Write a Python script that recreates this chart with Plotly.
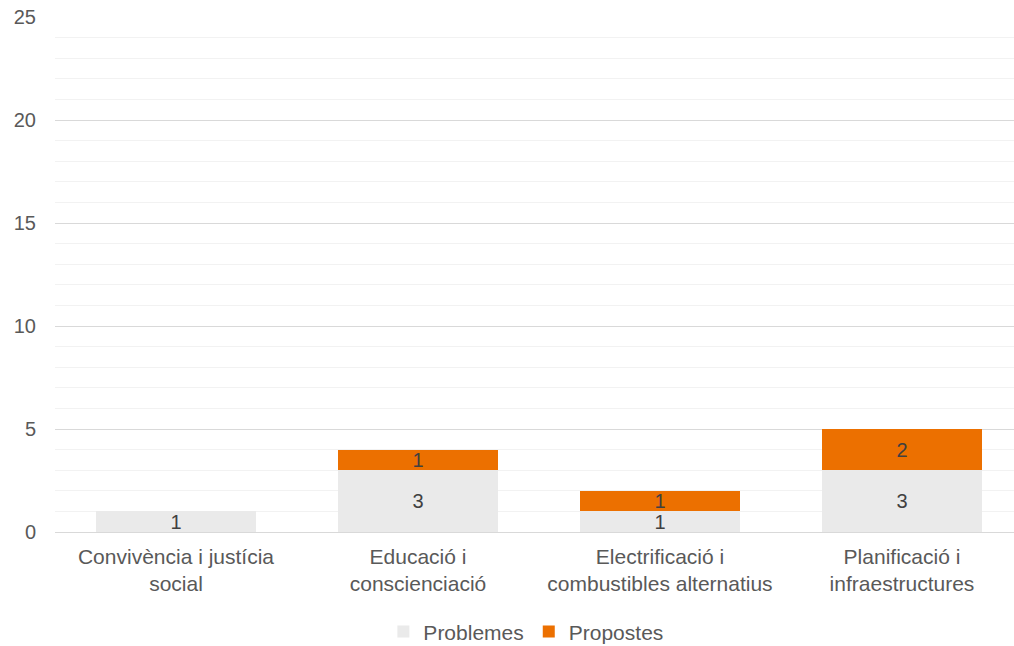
import plotly.graph_objects as go

categories = [
    "Convivència i justícia<br>social",
    "Educació i<br>conscienciació",
    "Electrificació i<br>combustibles alternatius",
    "Planificació i<br>infraestructures",
]
problemes = [1, 3, 1, 3]
propostes = [0, 1, 1, 2]

fig = go.Figure()

fig.add_trace(go.Bar(
    x=categories, y=problemes, name="Problemes",
    marker=dict(color="#EAEAEA", line=dict(width=0)),
    text=problemes, textposition="inside", insidetextanchor="middle",
    textangle=0, constraintext="none",
    textfont=dict(color="#404040", size=20),
))
fig.add_trace(go.Bar(
    x=categories, y=propostes, name="Propostes",
    marker=dict(color="#EC7000", line=dict(width=0)),
    text=[str(v) if v else "" for v in propostes],
    textposition="inside", insidetextanchor="middle",
    textangle=0, constraintext="none",
    textfont=dict(color="#404040", size=20),
))

fig.update_layout(
    barmode="stack",
    bargap=0.335,
    width=1014, height=646,
    margin=dict(l=55, r=0, t=17, b=114),
    plot_bgcolor="white", paper_bgcolor="white",
    font=dict(family="Liberation Sans, Arial, sans-serif", size=20, color="#595959"),
    uniformtext=dict(minsize=10, mode="show"),
    xaxis=dict(
        range=[-0.5, 3.463], automargin=False,
        showgrid=False, showline=False, ticks="", ticklabelstandoff=10,
        tickfont=dict(size=21, color="#595959"),
    ),
    yaxis=dict(
        range=[0, 25], dtick=5, automargin=False,
        showgrid=True, gridcolor="#D9D9D9", gridwidth=1,
        zeroline=True, zerolinecolor="#D9D9D9", zerolinewidth=1,
        showline=False, ticks="", ticklabelstandoff=18,
        minor=dict(dtick=1, showgrid=True, gridcolor="#F2F2F2", gridwidth=1),
        tickfont=dict(size=20, color="#595959"),
    ),
    legend=dict(
        orientation="h", x=0.491, xanchor="center",
        yref="container", y=0.022, yanchor="middle",
        traceorder="normal",
        font=dict(size=21, color="#595959"), itemwidth=30,
    ),
)

fig.write_html(
    "out.html",
    config={"displayModeBar": False},
    post_script="document.body.style.margin='0';",
)
